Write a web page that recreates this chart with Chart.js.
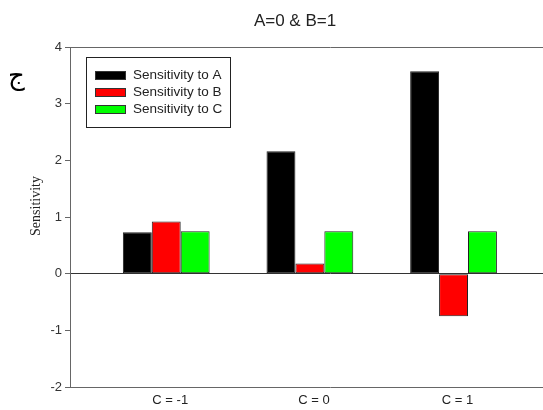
<!DOCTYPE html>
<html>
<head>
<meta charset="utf-8">
<script src="https://cdn.jsdelivr.net/npm/chart.js@4.4.1/dist/chart.umd.min.js"></script>
<style>
  html, body { margin: 0; padding: 0; overflow: hidden; background: #ffffff; }
  #wrap { position: relative; width: 590px; height: 410px; }
</style>
</head>
<body>
<div id="wrap"><canvas id="c" width="590" height="410"></canvas></div>
<script>
// Groups along the x axis and where each group sits on the linear scale
const categories = ['C = -1', 'C = 0', 'C = 1'];
const categoryPositions = [1, 2, 3];

// Sensitivity values per group
const sensToA = [0.73, 2.16, 3.57];
const sensToB = [0.92, 0.18, -0.75];
const sensToC = [0.75, 0.75, 0.75];

const seriesNames = ['Sensitivity to A', 'Sensitivity to B', 'Sensitivity to C'];
const seriesColors = ['#000000', '#ff0000', '#00ff00'];
const yTicks = [-2, -1, 0, 1, 2, 3, 4];

const chartTitle = 'A=0 & B=1';
const yTitle = 'Sensitivity';
const panelMark = 'ج';

const SANS = '"Liberation Sans", Arial, sans-serif';
const SERIF = '"Liberation Serif", "Times New Roman", serif';

function toPoints(values) {
  return categoryPositions.map((x, i) => ({ x: x, y: values[i] }));
}

// Boxed legend, rotated y title and panel mark
const decorations = {
  id: 'decorations',
  afterDraw(chart) {
    const ctx = chart.ctx;
    const ca = chart.chartArea;
    ctx.save();

    // legend box
    const bx = ca.left + 16, by = ca.top + 10, bw = 144, bh = 70;
    ctx.strokeStyle = '#222';
    ctx.lineWidth = 1;
    ctx.strokeRect(Math.round(bx) + 0.5, Math.round(by) + 0.5, bw, bh);
    ctx.font = '13.5px ' + SANS;
    ctx.textBaseline = 'middle';
    ctx.textAlign = 'left';
    chart.data.datasets.forEach((ds, i) => {
      const cy = by + 18 + i * 17;
      const sx = Math.round(bx + 9), sy = Math.round(cy - 4.5);
      ctx.fillStyle = ds.backgroundColor;
      ctx.fillRect(sx, sy, 31, 9);
      ctx.strokeStyle = '#333';
      ctx.strokeRect(sx + 0.5, sy + 0.5, 30, 8);
      ctx.fillStyle = '#222';
      ctx.fillText(ds.label, bx + 47, cy + 0.5);
    });

    // y axis title
    ctx.translate(36.5, 206);
    ctx.rotate(-Math.PI / 2);
    ctx.textAlign = 'center';
    ctx.textBaseline = 'middle';
    ctx.font = '14px ' + SERIF;
    ctx.fillStyle = '#222';
    ctx.fillText(yTitle, 0, 0);
    ctx.restore();

    // panel mark
    ctx.save();
    ctx.font = '26px "DejaVu Sans", sans-serif';
    ctx.textAlign = 'center';
    ctx.textBaseline = 'middle';
    ctx.fillStyle = '#000';
    ctx.fillText(panelMark, 16.5, 77);
    ctx.restore();
  }
};

const barStyle = {
  borderColor: '#222',
  borderWidth: 1,
  borderSkipped: false,
  categoryPercentage: 0.604,
  barPercentage: 1
};

new Chart(document.getElementById('c'), {
  type: 'bar',
  data: {
    datasets: [
      Object.assign({ label: seriesNames[0], data: toPoints(sensToA), backgroundColor: seriesColors[0] }, barStyle),
      Object.assign({ label: seriesNames[1], data: toPoints(sensToB), backgroundColor: seriesColors[1] }, barStyle),
      Object.assign({ label: seriesNames[2], data: toPoints(sensToC), backgroundColor: seriesColors[2] }, barStyle)
    ]
  },
  options: {
    responsive: false,
    animation: false,
    devicePixelRatio: 1,
    layout: { padding: { left: 0, right: 0, top: 0, bottom: 1 } },
    scales: {
      x: {
        type: 'linear',
        position: 'bottom',
        min: 0.33,
        max: 3.95,
        offset: false,
        afterBuildTicks(scale) {
          scale.ticks = categoryPositions.map(v => ({ value: v }));
        },
        afterFit(scale) { scale.height = 22; },
        ticks: {
          callback: (v) => categories[categoryPositions.indexOf(v)],
          font: { family: SANS, size: 13 },
          color: '#222',
          padding: 6,
          labelOffset: 4,
          autoSkip: false,
          maxRotation: 0
        },
        grid: { display: false, drawTicks: false },
        border: { color: '#666', width: 1 }
      },
      x2: {
        type: 'linear',
        position: 'top',
        display: true,
        ticks: { display: false },
        grid: { display: false, drawTicks: false },
        border: { color: '#666', width: 1 },
        afterFit(scale) { scale.height = 0; }
      },
      y: {
        type: 'linear',
        min: yTicks[0],
        max: yTicks[yTicks.length - 1],
        afterBuildTicks(scale) {
          scale.ticks = yTicks.map(v => ({ value: v }));
        },
        afterFit(scale) { scale.width = 70; },
        ticks: {
          font: { family: SANS, size: 13 },
          color: '#333',
          padding: 3
        },
        grid: {
          color: (c) => (c.tick && c.tick.value === 0 ? '#333' : 'rgba(0,0,0,0)'),
          tickColor: '#666',
          tickLength: 5,
          lineWidth: 1
        },
        border: { color: '#666', width: 1 }
      }
    },
    plugins: {
      legend: { display: false },
      tooltip: { enabled: false },
      title: {
        display: true,
        text: chartTitle,
        color: '#222',
        font: { family: SANS, size: 17, weight: 'normal' },
        padding: { top: 11, bottom: 15.6 }
      }
    }
  },
  plugins: [decorations]
});
</script>
</body>
</html>
